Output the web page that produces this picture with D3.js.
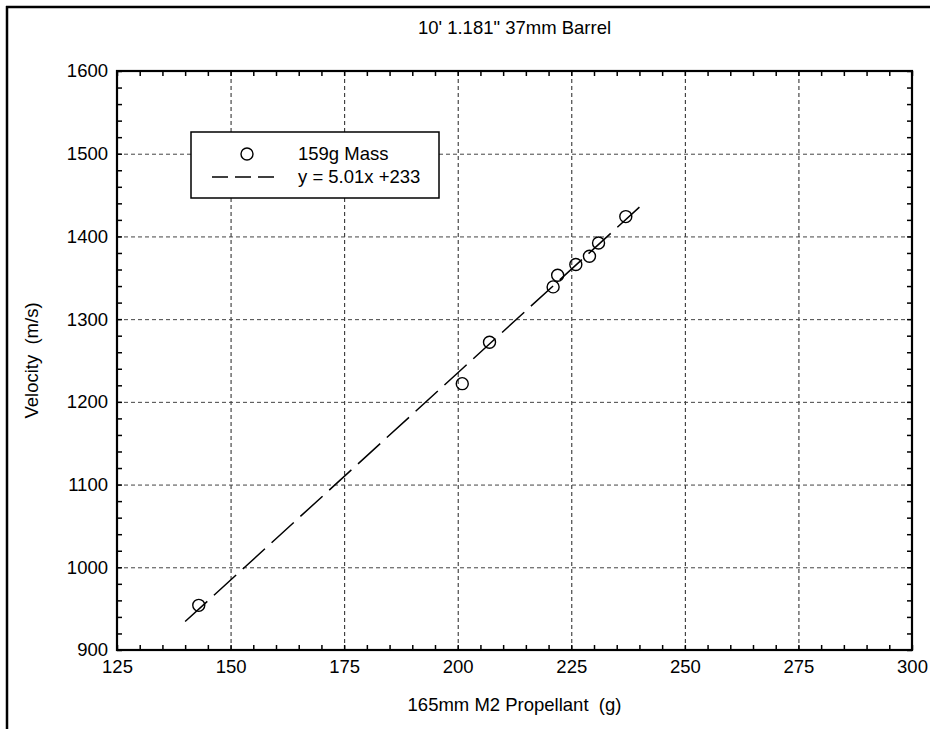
<!DOCTYPE html>
<html>
<head>
<meta charset="utf-8">
<script src="https://cdn.jsdelivr.net/npm/d3@7"></script>
<style>
  html, body { margin: 0; background: #fff; overflow: hidden; }
  svg { display: block; }
  svg text { font-family: "Liberation Sans", Arial, sans-serif; fill: #000; white-space: pre; }
</style>
</head>
<body>
<div id="chart"></div>
<script>
// data
let PROPELLANT = [143, 201, 207, 221, 222, 226, 229, 231, 237]
let VELOCITY = [954, 1222, 1272, 1339, 1353, 1366, 1376, 1392, 1424]
let FIT_SLOPE = 5.01
let FIT_INTERCEPT = 233
let FIT_RANGE = [140, 240]
let X_TICKS = [125, 150, 175, 200, 225, 250, 275, 300]
let Y_TICKS = [900, 1000, 1100, 1200, 1300, 1400, 1500, 1600]
let TITLE = "10' 1.181\" 37mm Barrel"
let X_LABEL = "165mm M2 Propellant  (g)"
let Y_LABEL = "Velocity  (m/s)"
let LEGEND = ["159g Mass", "y = 5.01x +233"]

let W = 931, H = 729
let margin = { left: 117, top: 71, right: 19, bottom: 79 }
let width = W - margin.left - margin.right,
    height = H - margin.top - margin.bottom

let svg = d3.select("#chart").append("svg")
    .attr("width", W)
    .attr("height", H)

// outer frame: only the left and top edges show
svg.append("line")
    .attr("x1", 7).attr("y1", 6).attr("x2", 7).attr("y2", H)
    .attr("stroke", "#000").attr("stroke-width", 2.5)
svg.append("line")
    .attr("x1", 6).attr("y1", 7).attr("x2", W - 1).attr("y2", 7)
    .attr("stroke", "#000").attr("stroke-width", 2.5)

let g = svg.append("g")
    .attr("transform", "translate(" + margin.left + "," + margin.top + ")")

let x = d3.scaleLinear().domain([125, 300]).range([0, width])
let y = d3.scaleLinear().domain([900, 1600]).range([height, 0])

// grid
let gridX = X_TICKS.slice(1, -1), gridY = Y_TICKS.slice(1, -1)
g.append("g")
    .attr("transform", "translate(0," + height + ")")
    .call(d3.axisBottom(x).tickValues(gridX).tickSize(-height).tickFormat(""))
    .call(function (s) { s.select(".domain").remove() })
    .selectAll("line")
    .attr("stroke", "#222")
    .attr("stroke-dasharray", "4,3")
g.append("g")
    .call(d3.axisLeft(y).tickValues(gridY).tickSize(-width).tickFormat(""))
    .call(function (s) { s.select(".domain").remove() })
    .selectAll("line")
    .attr("stroke", "#444")
    .attr("stroke-dasharray", "4,3")

// minor ticks (inside) on all four sides
let xMinor = d3.range(125, 301, 5), yMinor = d3.range(900, 1601, 20)
function ticks(axis, tr) {
    g.append("g")
        .attr("transform", tr)
        .call(axis)
        .call(function (s) { s.select(".domain").remove() })
        .selectAll("line")
        .attr("stroke", "#000")
        .attr("stroke-width", 1.5)
}
ticks(d3.axisBottom(x).tickValues(xMinor).tickSize(-5).tickFormat(""), "translate(0," + height + ")")
ticks(d3.axisTop(x).tickValues(xMinor).tickSize(-5).tickFormat(""), "translate(0,0)")
ticks(d3.axisLeft(y).tickValues(yMinor).tickSize(-5).tickFormat(""), "translate(0,0)")
ticks(d3.axisRight(y).tickValues(yMinor).tickSize(-5).tickFormat(""), "translate(" + width + ",0)")

// tick labels
let xAxis = g.append("g")
    .attr("transform", "translate(0," + height + ")")
    .call(d3.axisBottom(x).tickValues(X_TICKS).tickSize(0).tickPadding(10).tickFormat(d3.format("d")))
xAxis.select(".domain").remove()
xAxis.selectAll("text").style("font-size", "18.5px").attr("dy", "0.71em")

let yAxis = g.append("g")
    .call(d3.axisLeft(y).tickValues(Y_TICKS).tickSize(0).tickPadding(9).tickFormat(d3.format("d")))
yAxis.select(".domain").remove()
yAxis.selectAll("text").style("font-size", "18.5px")

// plot frame
g.append("rect")
    .attr("width", width)
    .attr("height", height)
    .attr("fill", "none")
    .attr("stroke", "#000")
    .attr("stroke-width", 2.2)

// fit line
let line = d3.line()
    .x(function (d) { return x(d) })
    .y(function (d) { return y(FIT_SLOPE * d + FIT_INTERCEPT) })
g.append("path")
    .attr("d", line(FIT_RANGE))
    .attr("fill", "none")
    .attr("stroke", "#000")
    .attr("stroke-width", 1.5)
    .attr("stroke-dasharray", "30,9")

// points
g.selectAll("circle.pt")
    .data(PROPELLANT)
    .enter()
    .append("circle")
    .attr("class", "pt")
    .attr("cx", function (d) { return x(d) })
    .attr("cy", function (d, i) { return y(VELOCITY[i]) })
    .attr("r", 6)
    .attr("fill", "none")
    .attr("stroke", "#000")
    .attr("stroke-width", 1.4)

// legend
let lg = svg.append("g").attr("transform", "translate(191,132)")
lg.append("rect")
    .attr("width", 248)
    .attr("height", 66)
    .attr("fill", "#fff")
    .attr("stroke", "#000")
    .attr("stroke-width", 1.5)
lg.append("circle")
    .attr("cx", 56).attr("cy", 22).attr("r", 6)
    .attr("fill", "none").attr("stroke", "#000").attr("stroke-width", 1.4)
lg.append("line")
    .attr("x1", 21).attr("x2", 87).attr("y1", 45).attr("y2", 45)
    .attr("stroke", "#000").attr("stroke-width", 1.5)
    .attr("stroke-dasharray", "16,7")
lg.selectAll("text.lab")
    .data(LEGEND)
    .enter()
    .append("text")
    .attr("class", "lab")
    .attr("x", 107)
    .attr("y", function (d, i) { return 28 + i * 23 })
    .style("font-size", "18.5px")
    .text(function (d) { return d })

// titles
svg.append("text")
    .attr("x", margin.left + width / 2)
    .attr("y", 33.5)
    .attr("text-anchor", "middle")
    .style("font-size", "18.5px")
    .text(TITLE)
svg.append("text")
    .attr("x", margin.left + width / 2)
    .attr("y", 711)
    .attr("text-anchor", "middle")
    .style("font-size", "18.5px")
    .text(X_LABEL)
svg.append("text")
    .attr("transform", "translate(38," + (margin.top + height / 2) + ") rotate(-90)")
    .attr("text-anchor", "middle")
    .style("font-size", "18.5px")
    .text(Y_LABEL)
</script>
</body>
</html>
